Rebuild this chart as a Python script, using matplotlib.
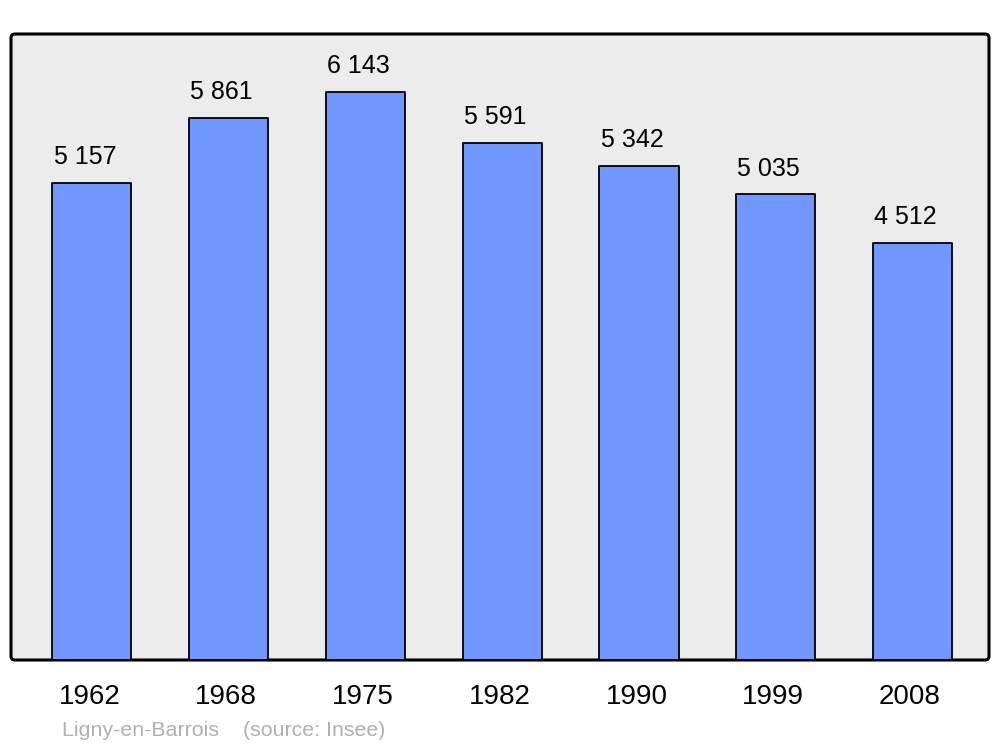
import matplotlib
matplotlib.use("Agg")
import matplotlib.pyplot as plt
from matplotlib.patches import FancyBboxPatch
from matplotlib.transforms import offset_copy

# population data
years = ["1962", "1968", "1975", "1982", "1990", "1999", "2008"]
population = [5157, 5861, 6143, 5591, 5342, 5035, 4512]
value_labels = ["5 157", "5 861", "6 143", "5 591", "5 342", "5 035", "4 512"]
source_text = "Ligny-en-Barrois    (source: Insee)"

plt.rcParams['font.family'] = ['Liberation Sans', 'DejaVu Sans']

fig = plt.figure(figsize=(10, 7.47), dpi=100)
ax = fig.add_axes([11 / 1000, 87 / 747, 978 / 1000, 626 / 747])
ax.patch.set_visible(False)
for s in ax.spines.values():
    s.set_visible(False)

# rounded frame
frame = FancyBboxPatch((0, 0), 1, 1, boxstyle="round,pad=0,rounding_size=0.004",
                       mutation_aspect=978 / 626, transform=ax.transAxes,
                       facecolor="#ececec", edgecolor="black", linewidth=2.2,
                       zorder=0, clip_on=False)
ax.add_patch(frame)

x = list(range(len(years)))
ax.bar(x, population, width=0.578, color="#7298ff", edgecolor="black",
       linewidth=1.3, joinstyle="round", zorder=2)

for xi, val, lab in zip(x, population, value_labels):
    ax.annotate(lab, (xi, val), xytext=(-5, 18.6), textcoords="offset points",
                ha="center", va="center", fontsize=18, color="black")

ax.set_xlim(-0.592, 6.559)
ax.set_ylim(0, 6770)
ax.set_yticks([])
ax.set_xticks(x)
ax.set_xticklabels(years, fontsize=20)
ax.tick_params(axis="x", length=0, pad=17)
# year labels sit a little left of the bar centres
for lbl in ax.get_xticklabels():
    lbl.set_transform(offset_copy(lbl.get_transform(), fig=fig, x=-1.8, units="points"))

fig.text(62 / 1000, 1 - 731 / 747, source_text, fontsize=15.4, color="#b0b0b0",
         ha="left", va="center")

fig.savefig("out.png", dpi=100)
